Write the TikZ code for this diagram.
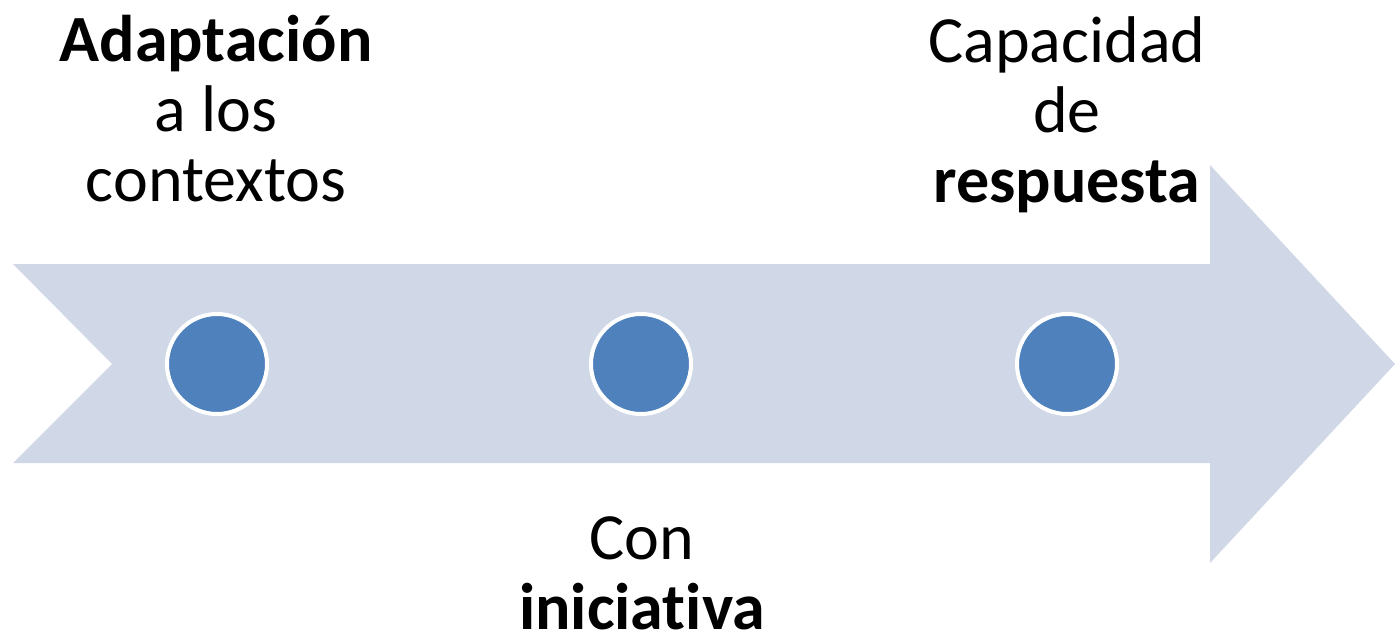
\documentclass[tikz,border=0pt]{standalone}
\usepackage{fontspec}
\setmainfont{Carlito}[Ligatures={NoCommon}]
\definecolor{flecha}{HTML}{D0D8E8}
\definecolor{punto}{HTML}{4F81BD}

\begin{document}
\begin{tikzpicture}[x=1pt,y=-1pt,
  hito/.style={circle,fill=punto,draw=white,line width=4pt,
    minimum size=100pt,inner sep=0pt},
  rotulo/.style={align=center,anchor=base,inner sep=0pt,
    font=\fontsize{66}{70}\selectfont}]
  \useasboundingbox (0,0) rectangle (1395,634);
  % flecha de fondo
  \fill[flecha] (13,264) -- (1210,264) -- (1210,165) -- (1395,364) --
  (1210,563) -- (1210,463) -- (13,463) -- (112,364) -- cycle;
  % hitos
  \node[hito] (adapt) at (217,364) {};
  \node[hito] (inic) at (641,364) {};
  \node[hito] (resp) at (1067,364) {};

  % rotulos
  \node[rotulo] (tadapt) at (216,201) {\textbf{Adaptación}\\a los\\contextos};
  \node[rotulo] (tinic) at (642,629) {Con\\\textbf{iniciativa}};
  \node[rotulo] (tresp) at (1067,202) {Capacidad\\de\\\textbf{respuesta}};
\end{tikzpicture}
\end{document}
